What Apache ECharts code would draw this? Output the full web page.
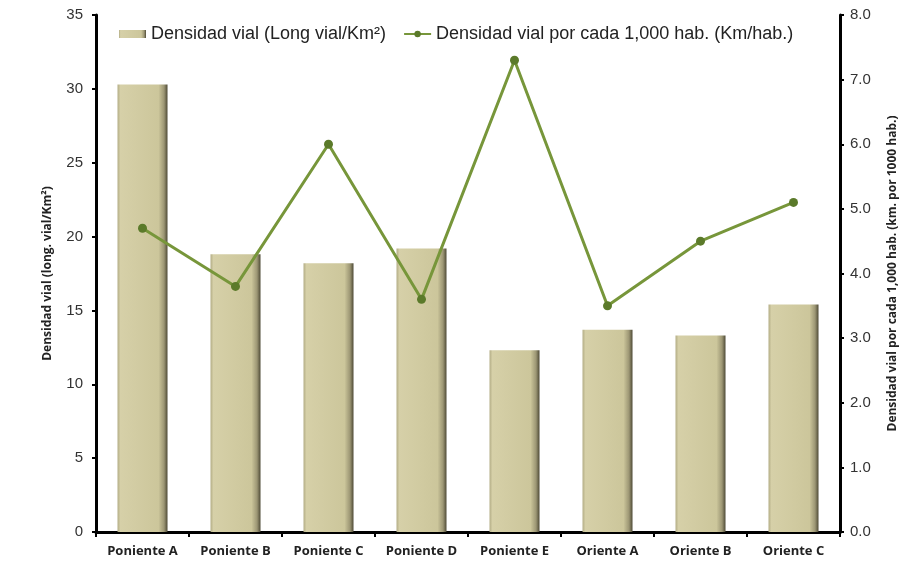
<!DOCTYPE html>
<html>
<head>
<meta charset="utf-8">
<script src="https://cdn.jsdelivr.net/npm/echarts@6/dist/echarts.min.js"></script>
<style>
  html, body { margin: 0; padding: 0; background: #fff; }
  #chart { width: 909px; height: 562px; }
</style>
</head>
<body>
<div id="chart"></div>
<script>
var categories = ["Poniente A", "Poniente B", "Poniente C", "Poniente D", "Poniente E", "Oriente A", "Oriente B", "Oriente C"];
var densidadVial = [30.3, 18.8, 18.2, 19.2, 12.3, 13.7, 13.3, 15.4];
var densidadPorHab = [4.7, 3.8, 6.0, 3.6, 7.3, 3.5, 4.5, 5.1];

var myChart = echarts.init(document.getElementById("chart"));

var barColor = new echarts.graphic.LinearGradient(0, 0, 1, 0, [
  { offset: 0, color: "#b3ad86" },
  { offset: 0.06, color: "#d6d0a8" },
  { offset: 0.82, color: "#ccc69b" },
  { offset: 0.93, color: "#9c9674" },
  { offset: 1, color: "#4e4a36" }
]);

var option = {
  animation: false,
  textStyle: { fontFamily: "Liberation Sans, Arial, sans-serif" },
  legend: {
    top: 20,
    left: 114,
    itemGap: 17,
    itemWidth: 27,
    itemHeight: 8,
    textStyle: { fontSize: 18, color: "#222", fontFamily: "Liberation Sans, Arial" },
    data: [
      { name: "Densidad vial (Long vial/Km²)", icon: "rect" },
      { name: "Densidad vial por cada 1,000 hab. (Km/hab.)" }
    ]
  },
  grid: {
    left: 96,
    right: 69,
    top: 15,
    bottom: 30
  },
  xAxis: {
    type: "category",
    data: categories,
    boundaryGap: true,
    axisLine: { lineStyle: { color: "#000", width: 3 } },
    axisTick: { show: true, interval: 0, length: 5, lineStyle: { color: "#000", width: 2 } },
    axisLabel: {
      interval: 0,
      margin: 13,
      fontSize: 13,
      fontWeight: "bold",
      color: "#222",
      fontFamily: "Open Sans, sans-serif"
    }
  },
  yAxis: [
    {
      type: "value",
      min: 0,
      max: 35,
      interval: 5,
      name: "Densidad vial (long. vial/Km²)",
      nameLocation: "middle",
      nameGap: 42,
      nameTextStyle: { fontSize: 12, fontWeight: "bold", color: "#222", fontFamily: "Open Sans, sans-serif" },
      axisLine: { show: true, lineStyle: { color: "#000", width: 3 } },
      axisTick: { show: true, length: 4, lineStyle: { color: "#000", width: 2 } },
      splitLine: { show: false },
      axisLabel: { fontSize: 15, color: "#333", margin: 13 }
    },
    {
      type: "value",
      min: 0,
      max: 8,
      interval: 1,
      position: "right",
      name: "Densidad vial por cada 1,000 hab. (km. por 1000 hab.)",
      nameLocation: "middle",
      nameGap: 47,
      nameRotate: 90,
      nameTextStyle: { fontSize: 12, fontWeight: "bold", color: "#222", fontFamily: "Open Sans, sans-serif" },
      axisLine: { show: true, lineStyle: { color: "#000", width: 3 } },
      axisTick: { show: true, length: 4, lineStyle: { color: "#000", width: 2 } },
      splitLine: { show: false },
      axisLabel: {
        fontSize: 15,
        color: "#333",
        margin: 10,
        formatter: function (v) { return v.toFixed(1); }
      }
    }
  ],
  series: [
    {
      name: "Densidad vial (Long vial/Km²)",
      type: "bar",
      yAxisIndex: 0,
      barWidth: 50,
      data: densidadVial,
      itemStyle: { color: barColor }
    },
    {
      name: "Densidad vial por cada 1,000 hab. (Km/hab.)",
      type: "line",
      yAxisIndex: 1,
      data: densidadPorHab,
      symbol: "circle",
      symbolSize: 9,
      lineStyle: { color: "#77963a", width: 3 },
      itemStyle: { color: "#5b7a2a" }
    }
  ]
};

myChart.setOption(option);
</script>
</body>
</html>
